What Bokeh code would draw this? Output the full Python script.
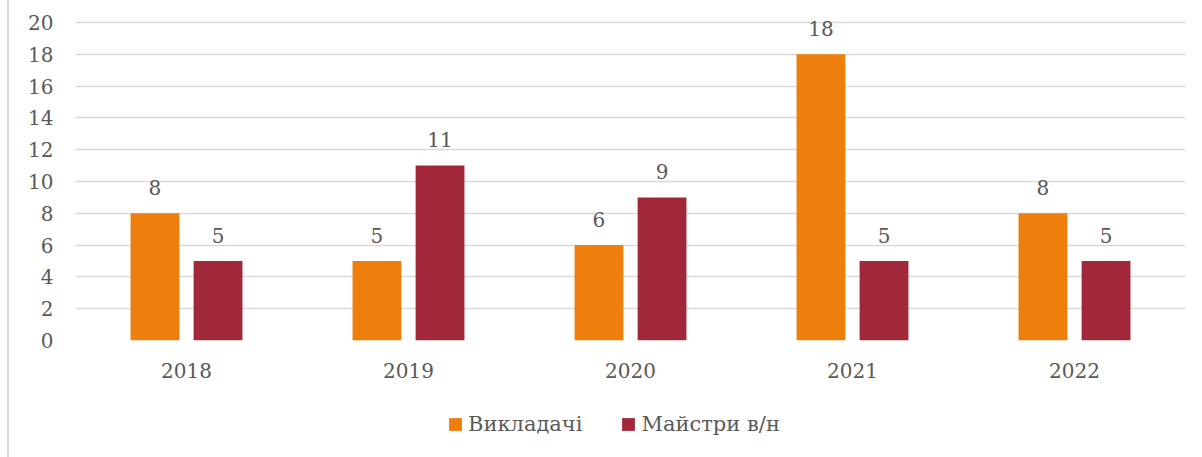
from bokeh.plotting import figure
from bokeh.models import ColumnDataSource, FactorRange, Range1d, Legend, LegendItem, FixedTicker, Div
from bokeh.transform import dodge
from bokeh.layouts import row, column
from bokeh.embed import file_html
from bokeh.resources import INLINE
from bokeh.core.properties import value

years = ["2018", "2019", "2020", "2021", "2022"]
teachers = [8, 5, 6, 18, 8]
masters = [5, 11, 9, 5, 5]
series_names = ["Викладачі", "Майстри в/н"]
y_ticks = [0, 2, 4, 6, 8, 10, 12, 14, 16, 18, 20]

ORANGE = "#EE7F0C"
RED = "#A12839"
TXT = "#595959"
GRID = "#D9D9D9"
FONT = "DejaVu Serif"

src = ColumnDataSource(dict(years=years, teachers=teachers, masters=masters,
                            tl=[str(v) for v in teachers], ml=[str(v) for v in masters]))

# frame spans 12..340 px; 20 units occupy 318 px, so the top is 10 px above the "20" line
y_top = 20 + 10 * 20 / 318
p = figure(x_range=FactorRange(*years, range_padding=0), y_range=Range1d(0, y_top),
           width=1193, height=400, output_backend="svg", toolbar_location=None,
           min_border_left=66, min_border_right=17, min_border_top=12, min_border_bottom=60)
p.outline_line_color = None
p.background_fill_color = "white"
p.border_fill_color = "white"

r1 = p.vbar(x=dodge("years", -0.142, range=p.x_range), top="teachers", width=0.22,
            source=src, fill_color=ORANGE, line_color=None)
r2 = p.vbar(x=dodge("years", 0.142, range=p.x_range), top="masters", width=0.22,
            source=src, fill_color=RED, line_color=None)

for col, lab, off in [("teachers", "tl", -0.142), ("masters", "ml", 0.142)]:
    p.text(x=dodge("years", off, range=p.x_range), y=col, text=lab, source=src,
           text_align="center", text_baseline="alphabetic", y_offset=-26,
           text_font=value(FONT), text_font_size="20px", text_color=TXT)

p.xgrid.grid_line_color = None
p.ygrid.grid_line_color = GRID
p.ygrid.grid_line_width = 1.5
p.yaxis.ticker = FixedTicker(ticks=y_ticks)

for ax in (p.xaxis[0], p.yaxis[0]):
    ax.axis_line_color = None
    ax.major_tick_line_color = None
    ax.minor_tick_line_color = None
    ax.major_label_text_font = FONT
    ax.major_label_text_font_size = "20px"
    ax.major_label_text_color = TXT
p.yaxis.major_label_standoff = 16
p.xaxis.major_label_standoff = 16

# legend strip below the chart
q = figure(width=1193, height=57, x_range=Range1d(0, 1), y_range=Range1d(0, 1),
           output_backend="svg", toolbar_location=None, min_border=0)
q.axis.visible = False
q.grid.visible = False
q.outline_line_color = None
key_src = ColumnDataSource(dict(x=[-5], top=[0]))
g1 = q.vbar(x="x", top="top", width=0.1, source=key_src, fill_color=ORANGE, line_color=None)
g2 = q.vbar(x="x", top="top", width=0.1, source=key_src, fill_color=RED, line_color=None)
legend = Legend(items=[LegendItem(label=series_names[0], renderers=[g1]),
                       LegendItem(label=series_names[1], renderers=[g2])],
                orientation="horizontal", location=(372, 21),
                glyph_width=16, glyph_height=16, label_standoff=5, spacing=38,
                padding=0, margin=0, border_line_color=None, background_fill_alpha=0,
                label_text_font=FONT, label_text_font_size="21px", label_text_color=TXT)
q.add_layout(legend, "center")

left = Div(text="", width=9, height=457, margin=0,
           styles={"border-right": "2px solid #D9D9D9", "box-sizing": "border-box", "height": "457px"})

layout = row(left, column(p, q, spacing=0), spacing=0)
open("out.html", "w").write(file_html(layout, INLINE))
